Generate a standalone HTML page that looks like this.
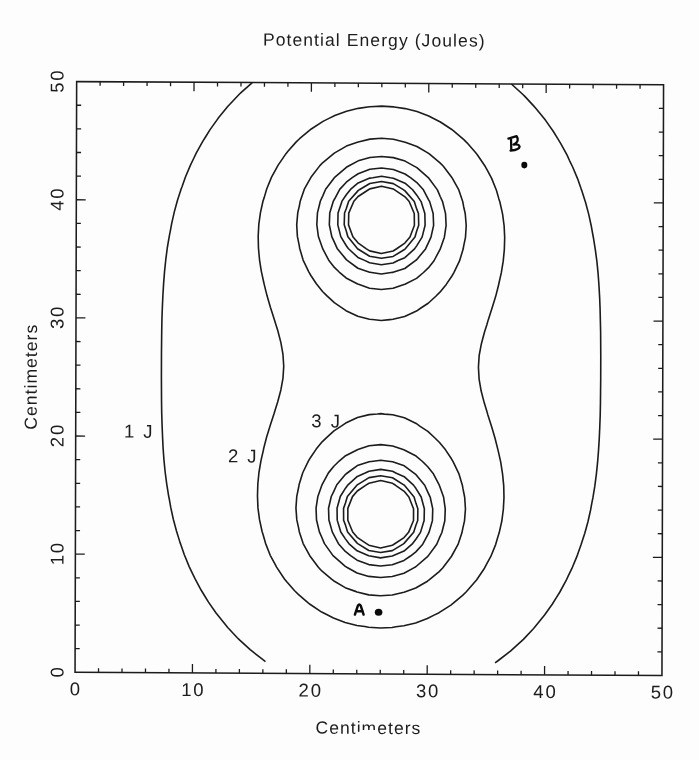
<!DOCTYPE html>
<html lang="en"><head><meta charset="utf-8"><title>Potential Energy (Joules)</title>
<style>html,body{margin:0;padding:0;background:#fdfdfd}body{width:699px;height:760px;overflow:hidden;position:relative;font-family:"Liberation Sans",sans-serif}svg{position:absolute;left:0;top:0;display:block;will-change:transform;filter:grayscale(1)}text{font-family:"Liberation Sans",sans-serif;fill:#1c1c1c}</style></head><body>
<svg width="699" height="760" viewBox="0 0 699 760">
<rect x="0" y="0" width="699" height="760" fill="#fdfdfd"/>
<g transform="matrix(1.000000,0.005452,-0.002709,1.000000,1.8210,-0.4092)">
<g fill="none" stroke="#1c1c1c" stroke-linecap="butt">
<rect x="75.05" y="81.60" width="586.90" height="590.70" stroke-width="1.55"/>
<path stroke-width="1.3" d="M98.53,672.30v-4.1M98.53,81.60v4.1M75.05,648.67h4.6M661.95,648.67h-4.6M122.00,672.30v-4.1M122.00,81.60v4.1M75.05,625.04h4.6M661.95,625.04h-4.6M145.48,672.30v-4.1M145.48,81.60v4.1M75.05,601.42h4.6M661.95,601.42h-4.6M168.95,672.30v-4.1M168.95,81.60v4.1M75.05,577.79h4.6M661.95,577.79h-4.6M192.43,672.30v-8.9M192.43,81.60v8.9M75.05,554.16h9.4M661.95,554.16h-9.4M215.91,672.30v-4.1M215.91,81.60v4.1M75.05,530.53h4.6M661.95,530.53h-4.6M239.38,672.30v-4.1M239.38,81.60v4.1M75.05,506.90h4.6M661.95,506.90h-4.6M262.86,672.30v-4.1M262.86,81.60v4.1M75.05,483.28h4.6M661.95,483.28h-4.6M286.33,672.30v-4.1M286.33,81.60v4.1M75.05,459.65h4.6M661.95,459.65h-4.6M309.81,672.30v-8.9M309.81,81.60v8.9M75.05,436.02h9.4M661.95,436.02h-9.4M333.29,672.30v-4.1M333.29,81.60v4.1M75.05,412.39h4.6M661.95,412.39h-4.6M356.76,672.30v-4.1M356.76,81.60v4.1M75.05,388.76h4.6M661.95,388.76h-4.6M380.24,672.30v-4.1M380.24,81.60v4.1M75.05,365.14h4.6M661.95,365.14h-4.6M403.71,672.30v-4.1M403.71,81.60v4.1M75.05,341.51h4.6M661.95,341.51h-4.6M427.19,672.30v-8.9M427.19,81.60v8.9M75.05,317.88h9.4M661.95,317.88h-9.4M450.67,672.30v-4.1M450.67,81.60v4.1M75.05,294.25h4.6M661.95,294.25h-4.6M474.14,672.30v-4.1M474.14,81.60v4.1M75.05,270.62h4.6M661.95,270.62h-4.6M497.62,672.30v-4.1M497.62,81.60v4.1M75.05,247.00h4.6M661.95,247.00h-4.6M521.09,672.30v-4.1M521.09,81.60v4.1M75.05,223.37h4.6M661.95,223.37h-4.6M544.57,672.30v-8.9M544.57,81.60v8.9M75.05,199.74h9.4M661.95,199.74h-9.4M568.05,672.30v-4.1M568.05,81.60v4.1M75.05,176.11h4.6M661.95,176.11h-4.6M591.52,672.30v-4.1M591.52,81.60v4.1M75.05,152.48h4.6M661.95,152.48h-4.6M615.00,672.30v-4.1M615.00,81.60v4.1M75.05,128.86h4.6M661.95,128.86h-4.6M638.47,672.30v-4.1M638.47,81.60v4.1M75.05,105.23h4.6M661.95,105.23h-4.6"/>
<g stroke-width="1.6" stroke-linejoin="round">
<path d="M250.7,81.6 L239.4,91.8 L237.7,93.4 L227.6,104.1 L226.6,105.2 L217.0,117.0 L215.9,118.6 L208.6,128.9 L204.2,136.0 L201.3,140.7 L194.8,152.5 L192.4,157.6 L189.2,164.3 L184.2,176.1 L180.7,186.1 L180.0,187.9 L176.2,199.7 L173.0,211.6 L170.4,223.4 L169.0,231.2 L168.2,235.2 L166.2,247.0 L164.7,258.8 L163.5,270.6 L162.6,282.4 L161.9,294.3 L161.4,306.1 L161.0,317.9 L160.8,329.7 L160.7,341.5 L160.6,353.3 L160.6,365.1 L160.6,376.9 L160.7,388.8 L160.8,400.6 L161.0,412.4 L161.4,424.2 L161.9,436.0 L162.5,447.8 L163.4,459.6 L164.6,471.5 L166.2,483.3 L168.1,495.1 L169.0,499.5 L170.3,506.9 L172.9,518.7 L176.1,530.5 L179.8,542.3 L180.7,544.6 L184.0,554.2 L188.9,566.0 L192.4,573.2 L194.6,577.8 L201.0,589.6 L204.2,594.8 L208.3,601.4 L215.9,612.2 L216.7,613.2 L226.2,625.0 L227.6,626.7 L237.2,636.9 L239.4,639.0 L250.1,648.7 L251.1,649.5 L262.9,658.7 L265.4,660.5"/>
<path d="M495.0,660.5 L497.6,658.7 L509.4,649.5 L510.4,648.7 L521.1,639.0 L523.3,636.9 L532.8,626.7 L534.3,625.0 L543.8,613.2 L544.6,612.2 L552.2,601.4 L556.3,594.8 L559.5,589.6 L565.9,577.8 L568.0,573.2 L571.5,566.0 L576.4,554.2 L579.8,544.6 L580.6,542.3 L584.4,530.5 L587.6,518.7 L590.2,506.9 L591.5,499.5 L592.4,495.1 L594.3,483.3 L595.8,471.5 L597.0,459.6 L597.9,447.8 L598.6,436.0 L599.1,424.2 L599.5,412.4 L599.7,400.6 L599.8,388.8 L599.9,376.9 L599.9,365.1 L599.9,353.3 L599.8,341.5 L599.7,329.7 L599.4,317.9 L599.1,306.1 L598.6,294.3 L597.9,282.4 L597.0,270.6 L595.8,258.8 L594.2,247.0 L592.3,235.2 L591.5,231.2 L590.1,223.4 L587.5,211.6 L584.3,199.7 L580.5,187.9 L579.8,186.1 L576.3,176.1 L571.3,164.3 L568.0,157.6 L565.7,152.5 L559.2,140.7 L556.3,136.0 L551.9,128.9 L544.6,118.6 L543.5,117.0 L533.8,105.2 L532.8,104.1 L522.8,93.4 L521.1,91.8 L509.8,81.6"/>
<path d="M392.0,105.1 L380.2,104.5 L368.5,105.1 L367.9,105.2 L356.8,106.8 L345.0,109.7 L333.3,114.1 L327.5,117.0 L321.5,120.0 L309.8,127.7 L308.3,128.9 L298.1,137.5 L294.8,140.7 L286.3,150.4 L284.6,152.5 L276.6,164.3 L274.6,168.0 L270.2,176.1 L265.4,187.9 L262.9,196.6 L261.8,199.7 L259.2,211.6 L257.6,223.4 L257.0,235.2 L257.3,247.0 L258.4,258.8 L260.3,270.6 L262.9,282.2 L262.9,282.4 L265.9,294.3 L269.4,306.1 L273.2,317.9 L274.6,322.5 L276.9,329.7 L280.0,341.5 L282.1,353.3 L282.9,365.1 L282.2,376.9 L280.1,388.8 L277.0,400.6 L274.6,408.3 L273.4,412.4 L269.6,424.2 L266.0,436.0 L263.0,447.8 L262.9,448.6 L260.4,459.6 L258.4,471.5 L257.3,483.3 L257.0,495.1 L257.5,506.9 L259.1,518.7 L261.7,530.5 L262.9,534.2 L265.2,542.3 L269.9,554.2 L274.6,562.7 L276.3,566.0 L284.2,577.8 L286.3,580.4 L294.4,589.6 L298.1,593.2 L307.7,601.4 L309.8,603.0 L321.5,610.7 L326.5,613.2 L333.3,616.6 L345.0,621.1 L356.8,623.9 L364.7,625.0 L368.5,625.7 L380.2,626.3 L392.0,625.7 L395.8,625.0 L403.7,623.9 L415.5,621.1 L427.2,616.6 L433.9,613.2 L438.9,610.7 L450.7,603.0 L452.8,601.4 L462.4,593.2 L466.1,589.6 L474.1,580.4 L476.3,577.8 L484.2,566.0 L485.9,562.7 L490.5,554.2 L495.3,542.3 L497.6,534.2 L498.8,530.5 L501.4,518.7 L502.9,506.9 L503.5,495.1 L503.2,483.3 L502.0,471.5 L500.1,459.6 L497.6,448.6 L497.4,447.8 L494.4,436.0 L490.9,424.2 L487.1,412.4 L485.9,408.3 L483.5,400.6 L480.4,388.8 L478.3,376.9 L477.6,365.1 L478.3,353.3 L480.5,341.5 L483.6,329.7 L485.9,322.5 L487.2,317.9 L491.0,306.1 L494.6,294.3 L497.6,282.4 L497.6,282.2 L500.2,270.6 L502.1,258.8 L503.2,247.0 L503.5,235.2 L502.9,223.4 L501.3,211.6 L498.6,199.7 L497.6,196.6 L495.1,187.9 L490.3,176.1 L485.9,168.0 L483.9,164.3 L475.9,152.5 L474.1,150.4 L465.6,140.7 L462.4,137.5 L452.1,128.9 L450.7,127.7 L438.9,120.0 L433.0,117.0 L427.2,114.1 L415.5,109.7 L403.7,106.8 L392.6,105.2Z"/>
<path d="M380.2,412.0 L376.7,412.4 L368.5,413.0 L356.8,416.0 L345.0,421.6 L341.3,424.2 L333.3,429.4 L326.2,436.0 L321.5,440.5 L315.6,447.8 L309.8,456.5 L307.9,459.6 L302.2,471.5 L298.6,483.3 L298.1,486.3 L296.3,495.1 L295.5,506.9 L296.4,518.7 L298.1,526.2 L298.9,530.5 L302.8,542.3 L309.3,554.2 L309.8,554.9 L318.1,566.0 L321.5,569.6 L331.3,577.8 L333.3,579.3 L345.0,586.2 L354.6,589.6 L356.8,590.4 L368.5,593.3 L380.2,594.1 L392.0,593.3 L403.7,590.4 L405.9,589.6 L415.5,586.2 L427.2,579.3 L429.2,577.8 L438.9,569.6 L442.4,566.0 L450.7,554.9 L451.2,554.2 L457.7,542.3 L461.6,530.5 L462.4,526.2 L464.1,518.7 L465.0,506.9 L464.2,495.1 L462.4,486.3 L461.9,483.3 L458.3,471.5 L452.5,459.6 L450.7,456.5 L444.9,447.8 L438.9,440.5 L434.3,436.0 L427.2,429.4 L419.1,424.2 L415.5,421.6 L403.7,416.0 L392.0,413.0 L383.7,412.4Z"/>
<path d="M403.7,140.4 L392.0,137.5 L380.2,136.6 L368.5,137.5 L356.8,140.4 L355.9,140.7 L345.0,144.6 L333.3,151.5 L332.0,152.5 L321.5,161.2 L318.5,164.3 L309.8,175.8 L309.6,176.1 L303.0,187.9 L299.0,199.7 L298.1,204.6 L296.5,211.6 L295.5,223.4 L296.2,235.2 L298.1,244.5 L298.5,247.0 L302.0,258.8 L307.7,270.6 L309.8,274.2 L315.3,282.4 L321.5,290.2 L325.7,294.3 L333.3,301.3 L340.6,306.1 L345.0,309.2 L356.8,314.8 L368.5,317.6 L371.6,317.9 L380.2,318.8 L388.9,317.9 L392.0,317.6 L403.7,314.8 L415.5,309.2 L419.9,306.1 L427.2,301.3 L434.8,294.3 L438.9,290.2 L445.2,282.4 L450.7,274.2 L452.8,270.6 L458.4,258.8 L462.0,247.0 L462.4,244.5 L464.3,235.2 L465.0,223.4 L464.0,211.6 L462.4,204.6 L461.5,199.7 L457.5,187.9 L450.9,176.1 L450.7,175.8 L442.0,164.3 L438.9,161.2 L428.5,152.5 L427.2,151.5 L415.5,144.6 L404.5,140.7Z"/>
<path d="M392.0,444.2 L380.2,443.0 L368.5,444.2 L358.0,447.8 L356.8,448.2 L345.0,454.2 L338.6,459.6 L333.3,464.8 L327.9,471.5 L321.6,483.3 L321.5,483.5 L317.4,495.1 L315.6,506.9 L316.1,518.7 L319.0,530.5 L321.5,536.2 L324.1,542.3 L332.7,554.2 L333.3,554.7 L345.0,564.9 L346.9,566.0 L356.8,571.4 L368.5,574.8 L380.2,575.8 L392.0,574.8 L403.7,571.4 L413.5,566.0 L415.5,564.9 L427.2,554.7 L427.7,554.2 L436.4,542.3 L438.9,536.2 L441.5,530.5 L444.4,518.7 L444.8,506.9 L443.1,495.1 L438.9,483.5 L438.9,483.3 L432.6,471.5 L427.2,464.8 L421.9,459.6 L415.5,454.2 L403.7,448.2 L402.5,447.8Z"/>
<path d="M403.7,159.3 L392.0,155.9 L380.2,154.9 L368.5,155.9 L356.8,159.3 L347.7,164.3 L345.0,165.8 L333.3,176.0 L333.2,176.1 L324.3,187.9 L321.5,194.5 L319.1,199.7 L316.2,211.6 L315.6,223.4 L317.2,235.2 L321.4,247.0 L321.5,247.3 L327.6,258.8 L333.3,266.0 L338.1,270.6 L345.0,276.5 L356.6,282.4 L356.8,282.5 L368.5,286.6 L380.2,287.8 L392.0,286.6 L403.7,282.5 L403.9,282.4 L415.5,276.5 L422.4,270.6 L427.2,266.0 L432.9,258.8 L438.9,247.3 L439.1,247.0 L443.2,235.2 L444.9,223.4 L444.3,211.6 L441.3,199.7 L438.9,194.5 L436.1,187.9 L427.3,176.1 L427.2,176.0 L415.5,165.8 L412.7,164.3Z"/>
<path d="M380.2,458.6 L372.7,459.6 L368.5,460.1 L356.8,464.0 L346.7,471.5 L345.0,472.8 L336.3,483.3 L333.3,489.9 L330.8,495.1 L328.1,506.9 L328.5,518.7 L331.9,530.5 L333.3,533.1 L338.1,542.3 L345.0,550.0 L350.3,554.2 L356.8,558.6 L368.5,563.0 L380.2,564.3 L392.0,563.0 L403.7,558.6 L410.2,554.2 L415.5,550.0 L422.4,542.3 L427.2,533.1 L428.6,530.5 L432.0,518.7 L432.3,506.9 L429.7,495.1 L427.2,489.9 L424.2,483.3 L415.5,472.8 L413.8,471.5 L403.7,464.0 L392.0,460.1 L387.8,459.6Z"/>
<path d="M403.7,172.2 L392.0,167.7 L380.2,166.4 L368.5,167.7 L356.8,172.2 L350.9,176.1 L345.0,180.7 L338.4,187.9 L333.3,197.6 L332.1,199.7 L328.5,211.6 L328.1,223.4 L330.6,235.2 L333.3,240.9 L336.0,247.0 L345.0,257.9 L346.1,258.8 L356.8,266.7 L368.5,270.6 L368.8,270.6 L380.2,272.3 L391.7,270.6 L392.0,270.6 L403.7,266.7 L414.3,258.8 L415.5,257.9 L424.4,247.0 L427.2,240.9 L429.8,235.2 L432.4,223.4 L431.9,211.6 L428.4,199.7 L427.2,197.6 L422.1,187.9 L415.5,180.7 L409.5,176.1Z"/>
<path d="M392.0,469.6 L380.2,467.7 L368.5,469.6 L364.6,471.5 L356.8,474.9 L347.5,483.3 L345.0,486.7 L339.8,495.1 L336.6,506.9 L336.8,518.7 L340.4,530.5 L345.0,537.4 L348.7,542.3 L356.8,549.3 L368.4,554.2 L368.5,554.2 L380.2,556.2 L392.0,554.2 L392.0,554.2 L403.7,549.3 L411.7,542.3 L415.5,537.4 L420.1,530.5 L423.7,518.7 L423.9,506.9 L420.7,495.1 L415.5,486.7 L413.0,483.3 L403.7,474.9 L395.8,471.5Z"/>
<path d="M380.2,174.6 L371.5,176.1 L368.5,176.5 L356.8,181.4 L349.2,187.9 L345.0,193.3 L340.7,199.7 L336.8,211.6 L336.6,223.4 L339.6,235.2 L345.0,244.0 L347.1,247.0 L356.8,255.9 L363.5,258.8 L368.5,261.2 L380.2,263.1 L392.0,261.2 L396.9,258.8 L403.7,255.9 L413.4,247.0 L415.5,244.0 L420.9,235.2 L423.9,223.4 L423.6,211.6 L419.8,199.7 L415.5,193.3 L411.3,187.9 L403.7,181.4 L392.0,176.5 L389.0,176.1Z"/>
<path d="M392.0,476.0 L380.2,474.1 L368.5,476.0 L356.8,483.3 L356.8,483.3 L346.9,495.1 L345.0,501.5 L343.1,506.9 L343.2,518.7 L345.0,523.4 L347.2,530.5 L356.8,541.6 L357.8,542.3 L368.5,548.9 L380.2,550.8 L392.0,548.9 L402.7,542.3 L403.7,541.6 L413.3,530.5 L415.5,523.4 L417.3,518.7 L417.4,506.9 L415.5,501.5 L413.6,495.1 L403.7,483.3 L403.6,483.3Z"/>
<path d="M392.0,181.9 L380.2,179.9 L368.5,181.9 L358.5,187.9 L356.8,189.1 L347.4,199.7 L345.0,207.3 L343.3,211.6 L343.0,223.4 L345.0,229.2 L346.7,235.2 L356.2,247.0 L356.8,247.5 L368.5,254.7 L380.2,256.6 L392.0,254.7 L403.7,247.5 L404.2,247.0 L413.8,235.2 L415.5,229.2 L417.5,223.4 L417.2,211.6 L415.5,207.3 L413.0,199.7 L403.7,189.1 L402.0,187.9Z"/>
<path d="M392.0,481.6 L380.2,478.9 L368.5,481.6 L365.8,483.3 L356.8,489.5 L352.0,495.1 L347.4,506.9 L347.4,518.7 L352.3,530.5 L356.8,535.8 L366.5,542.3 L368.5,543.6 L380.2,546.3 L392.0,543.6 L394.0,542.3 L403.7,535.8 L408.2,530.5 L413.1,518.7 L413.1,506.9 L408.4,495.1 L403.7,489.5 L394.7,483.3Z"/>
<path d="M392.0,187.3 L380.2,184.5 L368.5,187.3 L367.5,187.9 L356.8,195.0 L352.6,199.7 L347.5,211.6 L347.3,223.4 L351.7,235.2 L356.8,241.3 L364.9,247.0 L368.5,249.3 L380.2,251.9 L392.0,249.3 L395.5,247.0 L403.7,241.3 L408.8,235.2 L413.2,223.4 L413.0,211.6 L407.9,199.7 L403.7,195.0 L393.0,187.9Z"/>
</g>
</g>
<text x="75.05" y="695.40" font-size="18.5" text-anchor="middle" letter-spacing="0">0</text>
<text x="193.33" y="695.40" font-size="18.5" text-anchor="middle" letter-spacing="1.8">10</text>
<text x="310.71" y="695.40" font-size="18.5" text-anchor="middle" letter-spacing="1.8">20</text>
<text x="428.09" y="695.40" font-size="18.5" text-anchor="middle" letter-spacing="1.8">30</text>
<text x="545.47" y="695.40" font-size="18.5" text-anchor="middle" letter-spacing="1.8">40</text>
<text x="662.85" y="695.40" font-size="18.5" text-anchor="middle" letter-spacing="1.8">50</text>
<text transform="translate(63.60,672.30) rotate(-90)" x="0.00" y="0" font-size="18.5" text-anchor="middle" letter-spacing="0">0</text>
<text transform="translate(63.28,554.16) rotate(-90)" x="0.90" y="0" font-size="18.5" text-anchor="middle" letter-spacing="1.8">10</text>
<text transform="translate(62.96,436.02) rotate(-90)" x="0.90" y="0" font-size="18.5" text-anchor="middle" letter-spacing="1.8">20</text>
<text transform="translate(62.64,317.88) rotate(-90)" x="0.90" y="0" font-size="18.5" text-anchor="middle" letter-spacing="1.8">30</text>
<text transform="translate(62.32,199.74) rotate(-90)" x="0.90" y="0" font-size="18.5" text-anchor="middle" letter-spacing="1.8">40</text>
<text transform="translate(62.00,81.60) rotate(-90)" x="0.90" y="0" font-size="18.5" text-anchor="middle" letter-spacing="1.8">50</text>
<text x="261.20" y="44.49" font-size="17.5" letter-spacing="1.09">Potential Energy (Joules)</text>
<text x="315.66" y="732.29" font-size="17.5" letter-spacing="1.05">Centimeters</text>
<text transform="translate(36.04,429.91) rotate(-90)" x="0" y="0" font-size="17.5" letter-spacing="1.05">Centimeters</text>
<text x="123.26" y="437.34" font-size="18.5" letter-spacing="2">1 J</text>
<text x="227.33" y="461.47" font-size="18.5" letter-spacing="2">2 J</text>
<text x="310.63" y="426.02" font-size="18.5" letter-spacing="2">3 J</text>
</g>
<g fill="none" stroke="#0a0a0a" stroke-width="2.45" stroke-linecap="round" stroke-linejoin="round">
<path d="M354.9,614.6 L357.9,605.6 Q359.3,603.4 360.7,605.6 L363.6,614.6 M356.0,611.2 L362.7,611.2"/>
<path stroke-width="2.25" d="M508.4,138.6 L516.6,136.1 Q518.4,139 517.2,141.6 Q515.8,143.6 513.6,144.6 Q519.2,143.8 519.6,146.6 Q519.4,149.8 510.6,150.6 M511,137.8 L511.3,150.4"/>
</g>
<ellipse cx="378.6" cy="612.3" rx="3.8" ry="3.5" fill="#0a0a0a"/>
<ellipse cx="524.3" cy="165.1" rx="3.0" ry="3.3" fill="#0a0a0a"/>
<path d="M355.8,732.2 L360.5,731.6 L361,730.1 L376.2,730.1 L376.2,736.5 L355.8,736.5Z" fill="#fdfdfd"/>
</svg></body></html>
